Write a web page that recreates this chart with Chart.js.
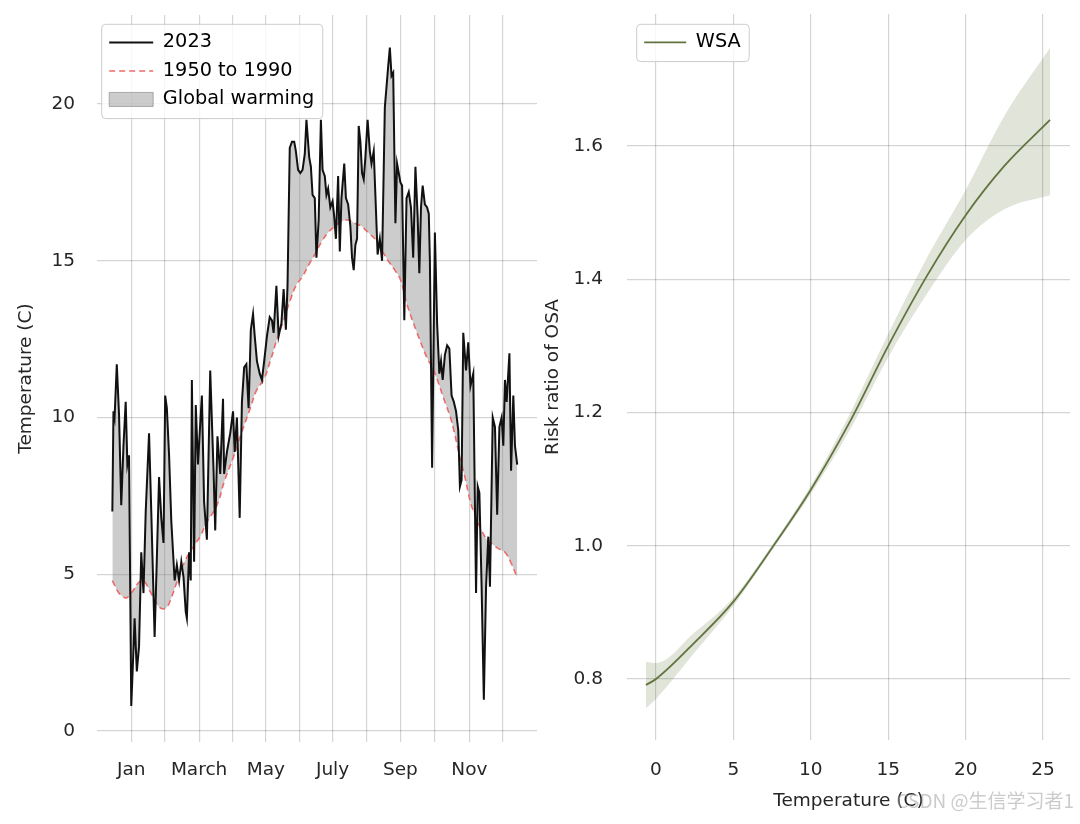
<!DOCTYPE html>
<html>
<head>
<meta charset="utf-8">
<title>Temperature 2023 and risk ratio of OSA</title>
<script src="https://cdn.jsdelivr.net/npm/chart.js@4.4.1/dist/chart.umd.min.js"></script>
<style>
  body { margin: 0; background: #fff; }
  #tempChart { position: absolute; left: 0; top: 0; }
  #riskChart { position: absolute; left: 540px; top: 0; }
  #mark { position: absolute; right: 6px; top: 786px; font: 19px 'Noto Sans CJK SC', sans-serif; color: rgba(160,160,160,0.55); }
</style>
</head>
<body>
<canvas id="tempChart" width="545" height="824"></canvas>
<canvas id="riskChart" width="540" height="824"></canvas>
<div id="mark">CSDN @生信学习者1</div>
<script>
// left panel: daily temperature 2023 vs 1950-1990 mean (day of year)
var days2023 = [1, 2, 3, 5, 7, 9, 11, 13, 14.5, 16, 18, 20, 21, 23, 25, 27, 29, 31, 34, 36, 39, 41, 43, 45, 47, 48.5, 50, 52, 54, 57, 59, 61, 63, 65, 67, 68, 70, 71.5, 72.5, 74.5, 76, 78, 80, 81.5, 83.5, 86, 89, 92, 93.5, 95.5, 98, 100.5, 101.5, 104, 107, 109.5, 111, 113, 115.5, 117.5, 119.5, 121.5, 123.5, 125.5, 127.5, 129, 131, 133.5, 135.5, 137.5, 140, 142.5, 144.5, 146, 148.5, 150.5, 153, 155, 157, 158.5, 160.5, 162.5, 164.5, 166, 168, 170, 172, 174, 175.5, 178, 179.5, 181, 183, 184.5, 186.5, 188.5, 190, 192, 193.5, 195, 197, 199, 200.5, 202, 204, 205.5, 207, 209.5, 211, 213, 215, 216.5, 218, 219.5, 221, 222.5, 224, 225.5, 227, 228.5, 230.5, 232.5, 234, 236, 237.5, 239.5, 241.5, 243.5, 246, 249, 250.5, 252, 253.5, 255.5, 257, 258.5, 260, 261.5, 263.5, 265.5, 267.5, 269.5, 271.5, 273.5, 275.5, 277, 278.5, 280, 282, 284, 285.5, 286.5, 288.5, 291, 293, 295, 296.5, 298, 300, 302, 304, 306, 308, 310, 312, 313.5, 315, 316.5, 319, 321, 323, 325.5, 328, 329.5, 331, 333, 335, 337, 339, 340.5, 343, 345, 347, 349, 351, 352.5, 354, 355.5, 358, 359.5, 361.5, 363, 365]
var temp2023 = [7.0, 10.2, 10.0, 11.7, 10.1, 7.2, 9.1, 10.5, 8.5, 8.8, 0.8, 2.6, 3.6, 1.9, 2.7, 5.7, 4.4, 7.0, 9.5, 7.0, 3.0, 5.5, 8.1, 6.8, 6.0, 10.7, 10.3, 8.8, 6.7, 4.8, 5.3, 4.8, 5.4, 4.9, 3.8, 3.6, 5.7, 4.8, 11.2, 5.4, 10.4, 8.5, 9.8, 10.7, 7.3, 6.1, 11.5, 8.3, 6.4, 9.4, 8.2, 10.6, 8.2, 8.9, 9.5, 10.2, 8.9, 10.0, 6.8, 10.5, 11.6, 11.7, 10.3, 12.8, 13.3, 12.6, 11.8, 11.4, 11.2, 11.8, 12.6, 13.2, 13.1, 12.7, 14.2, 12.6, 13.0, 14.1, 12.8, 14.2, 18.6, 18.8, 18.8, 18.5, 17.9, 17.8, 17.9, 18.4, 19.5, 18.3, 18.0, 17.1, 17.0, 15.1, 16.3, 19.5, 17.9, 17.7, 17.1, 17.3, 16.7, 16.9, 16.4, 15.7, 17.7, 15.3, 17.0, 18.1, 17.0, 16.8, 16.1, 15.1, 14.7, 15.5, 15.7, 19.3, 18.8, 17.8, 17.6, 18.3, 19.5, 18.5, 18.1, 18.5, 17.1, 15.2, 15.7, 15.0, 19.9, 21.2, 21.8, 20.9, 21.0, 16.2, 18.1, 17.8, 17.5, 17.4, 13.1, 17.0, 17.2, 16.7, 15.1, 18.0, 16.4, 14.6, 16.7, 17.4, 16.8, 16.7, 16.5, 15.0, 8.4, 15.9, 13.0, 11.4, 11.8, 11.2, 12.0, 12.3, 12.2, 10.7, 10.5, 10.2, 9.6, 7.8, 8.0, 12.7, 11.5, 12.4, 11.0, 11.4, 4.4, 7.8, 7.6, 4.6, 1.0, 4.6, 6.2, 4.6, 10.0, 9.7, 6.9, 9.7, 10.0, 9.1, 11.2, 10.5, 12.05, 8.3, 10.7, 9.1, 8.5]

var baseDays = [1, 6, 10, 14, 20, 25, 29, 35, 42, 46, 50, 54, 59, 66, 75, 80, 85, 95, 102, 110, 117, 125, 131, 137, 143, 149, 155, 161, 166, 172, 178, 183, 189, 195, 201, 207, 213, 219, 225, 231, 237, 243, 249, 255, 260, 266, 275, 284, 290, 299, 305, 308, 313, 318, 323, 328, 333, 338, 343, 349, 354, 359, 365]
var baseTemp = [4.8, 4.45, 4.3, 4.25, 4.5, 4.75, 4.8, 4.45, 4.0, 3.9, 3.95, 4.25, 4.75, 5.4, 5.95, 6.2, 6.6, 7.2, 8.0, 8.75, 9.5, 10.3, 10.9, 11.2, 11.8, 12.5, 13.1, 13.75, 14.2, 14.5, 14.9, 15.2, 15.6, 15.9, 16.1, 16.25, 16.3, 16.2, 16.1, 15.9, 15.7, 15.35, 15.0, 14.7, 14.4, 13.6, 12.7, 11.9, 11.5, 10.6, 10.0, 9.6, 8.8, 8.1, 7.3, 6.8, 6.4, 6.1, 5.95, 5.8, 5.7, 5.4, 4.9]

var monthTicks = [18, 48, 79, 109, 139, 169, 199, 230, 260, 291, 322, 352]
var monthLabels = ['Jan', '', 'March', '', 'May', '', 'July', '', 'Sep', '', 'Nov', '']
var tempTicks = [0, 5, 10, 15, 20]

// right panel: risk ratio curve with confidence band
var wsaTemp = [-0.65, 0, 2.5, 5, 7.5, 10, 12.5, 15, 17.5, 20, 22.5, 25.45]
var wsaRisk = [0.791, 0.80, 0.855, 0.916, 0.997, 1.084, 1.185, 1.30, 1.405, 1.496, 1.570, 1.639]
var wsaUpper = [0.826, 0.824, 0.870, 0.922, 1.001, 1.090, 1.197, 1.318, 1.432, 1.534, 1.645, 1.747]
var wsaLower = [0.756, 0.770, 0.840, 0.910, 0.993, 1.078, 1.173, 1.283, 1.378, 1.459, 1.505, 1.526]
var riskXTicks = [0, 5, 10, 15, 20, 25]
var riskYTicks = [0.8, 1.0, 1.2, 1.4, 1.6]

var gridColor = 'rgba(0,0,0,0.17)'
var textColor = '#262626'
var olive = '#62733f'

Chart.defaults.font.family = "'DejaVu Sans', sans-serif"
Chart.defaults.font.size = 18.5
Chart.defaults.color = textColor

function points(xs, ys) {
    return xs.map(function (x, i) { return { x: x, y: ys[i] } })
}

function fixedTicks(list) {
    return function (scale) {
        scale.ticks = list.map(function (v) { return { value: v } })
    }
}

// fixed axis size, and no extra room for the end labels
function fitAxis(size) {
    return function (s) {
        if (s.isHorizontal()) s.height = size
        else s.width = size
        s.paddingTop = 0
        s.paddingBottom = 0
        s.paddingLeft = 0
        s.paddingRight = 0
    }
}

// white legend frame like matplotlib, drawn just under the legend
function drawLegendFrame(chart) {
    var boxes = chart.legend.legendHitBoxes
    if (!boxes || !boxes.length) return
    var x0 = Infinity, y0 = Infinity, x1 = -Infinity, y1 = -Infinity
    boxes.forEach(function (b) {
        x0 = Math.min(x0, b.left); y0 = Math.min(y0, b.top)
        x1 = Math.max(x1, b.left + b.width); y1 = Math.max(y1, b.top + b.height)
    })
    x0 -= 8; y0 -= 9; x1 += 8; y1 += 9
    var ctx = chart.ctx
    ctx.save()
    ctx.fillStyle = 'rgba(255,255,255,0.8)'
    ctx.strokeStyle = '#cccccc'
    ctx.lineWidth = 1
    ctx.beginPath()
    ctx.roundRect(x0 + 0.5, y0 + 0.5, x1 - x0, y1 - y0, 4)
    ctx.fill()
    ctx.stroke()
    ctx.restore()
}

// puts the legend inside the plot and draws it above the data
var legendInside = {
    id: 'legendInside',
    beforeLayout: function (chart) {
        var lg = chart.legend
        if (!lg || lg._inside) return
        lg._inside = true
        lg._layers = function () {
            return [{ z: 10, draw: function (area) { drawLegendFrame(chart); lg.draw(area) } }]
        }
    },
    afterLayout: function (chart, args, opts) {
        var lg = chart.legend
        lg.left = opts.x - 10
        lg.top = opts.y - 10
        lg.right = lg.left + lg.width
        lg.bottom = lg.top + lg.height
    }
}

function axisGrid() {
    return { color: gridColor, lineWidth: 1.2, drawTicks: false }
}

var legendFont = { size: 19.3 }

var tempChart = new Chart('tempChart', {
    type: 'line',
    data: {
        datasets: [{
            label: '2023',
            data: points(days2023, temp2023),
            borderColor: '#111111',
            borderWidth: 2,
            pointRadius: 0,
            tension: 0,
            fill: { target: 1 },
            backgroundColor: 'rgba(128,128,128,0.4)'
        }, {
            label: '1950 to 1990',
            data: points(baseDays, baseTemp),
            borderColor: '#ec6b6b',
            borderWidth: 1.6,
            borderDash: [6, 4],
            pointRadius: 0,
            tension: 0.4,
            fill: false
        }]
    },
    options: {
        responsive: false,
        animation: false,
        events: [],
        layout: { padding: { left: 0, top: 15, right: 8, bottom: 0 } },
        plugins: {
            filler: { drawTime: 'beforeDatasetsDraw' },
            tooltip: { enabled: false },
            legend: {
                position: 'chartArea',
                align: 'start',
                labels: {
                    usePointStyle: true,
                    pointStyleWidth: 44,
                    boxHeight: 14,
                    padding: 9.2,
                    color: textColor,
                    font: legendFont,
                    generateLabels: function () {
                        return [
                            { text: '2023', pointStyle: 'line', strokeStyle: '#111111', fillStyle: '#111111', lineWidth: 2, datasetIndex: 0 },
                            { text: '1950 to 1990', pointStyle: 'line', strokeStyle: '#ec6b6b', fillStyle: '#ec6b6b', lineWidth: 1.6, lineDash: [6, 4], datasetIndex: 1 },
                            { text: 'Global warming', pointStyle: 'rect', strokeStyle: 'rgba(110,110,110,0.5)', fillStyle: 'rgba(128,128,128,0.4)', lineWidth: 1 }
                        ]
                    }
                }
            },
            legendInside: { x: 110, y: 33.6 }
        },
        scales: {
            x: {
                type: 'linear',
                min: -12.8,
                max: 382.8,
                afterBuildTicks: fixedTicks(monthTicks),
                afterFit: fitAxis(82),
                ticks: {
                    autoSkip: false,
                    maxRotation: 0,
                    padding: 17,
                    callback: function (v, i) { return monthLabels[i] }
                },
                grid: axisGrid(),
                border: { display: false }
            },
            y: {
                min: -0.35,
                max: 22.84,
                afterBuildTicks: fixedTicks(tempTicks),
                afterFit: fitAxis(97),
                ticks: { padding: 22, callback: function (v) { return String(v) } },
                title: { display: true, text: 'Temperature (C)', padding: { top: 15, bottom: 0 } },
                grid: axisGrid(),
                border: { display: false }
            }
        }
    },
    plugins: [legendInside]
})

var riskChart = new Chart('riskChart', {
    type: 'line',
    data: {
        datasets: [{
            label: 'WSA',
            data: points(wsaTemp, wsaRisk),
            borderColor: olive,
            borderWidth: 1.8,
            pointRadius: 0,
            cubicInterpolationMode: 'monotone',
            fill: false
        }, {
            label: 'upper',
            data: points(wsaTemp, wsaUpper),
            borderColor: 'transparent',
            borderWidth: 0,
            pointRadius: 0,
            cubicInterpolationMode: 'monotone',
            fill: '+1',
            backgroundColor: 'rgba(85,107,47,0.18)'
        }, {
            label: 'lower',
            data: points(wsaTemp, wsaLower),
            borderColor: 'transparent',
            borderWidth: 0,
            pointRadius: 0,
            cubicInterpolationMode: 'monotone',
            fill: false
        }]
    },
    options: {
        responsive: false,
        animation: false,
        events: [],
        layout: { padding: { left: 0, top: 14, right: 10, bottom: 0 } },
        plugins: {
            filler: { drawTime: 'beforeDatasetsDraw' },
            tooltip: { enabled: false },
            legend: {
                position: 'chartArea',
                align: 'start',
                labels: {
                    usePointStyle: true,
                    pointStyleWidth: 42,
                    boxHeight: 14,
                    padding: 9.2,
                    color: textColor,
                    font: legendFont,
                    generateLabels: function () {
                        return [{ text: 'WSA', pointStyle: 'line', strokeStyle: olive, fillStyle: olive, lineWidth: 1.8, datasetIndex: 0 }]
                    }
                }
            },
            // canvas starts at page x 540
            legendInside: { x: 105, y: 33.6 }
        },
        scales: {
            x: {
                type: 'linear',
                min: -1.873,
                max: 26.74,
                afterBuildTicks: fixedTicks(riskXTicks),
                afterFit: fitAxis(84),
                ticks: { autoSkip: false, maxRotation: 0, padding: 19, callback: function (v) { return String(v) } },
                title: { display: true, text: 'Temperature (C)', padding: { top: 0, bottom: 12 } },
                grid: axisGrid(),
                border: { display: false }
            },
            y: {
                min: 0.7084,
                max: 1.798,
                afterBuildTicks: fixedTicks(riskYTicks),
                afterFit: fitAxis(87),
                ticks: { padding: 24, callback: function (v) { return v.toFixed(1) } },
                title: { display: true, text: 'Risk ratio of OSA', padding: { top: 2.4, bottom: 0 } },
                grid: axisGrid(),
                border: { display: false }
            }
        }
    },
    plugins: [legendInside]
})
</script>
</body>
</html>
